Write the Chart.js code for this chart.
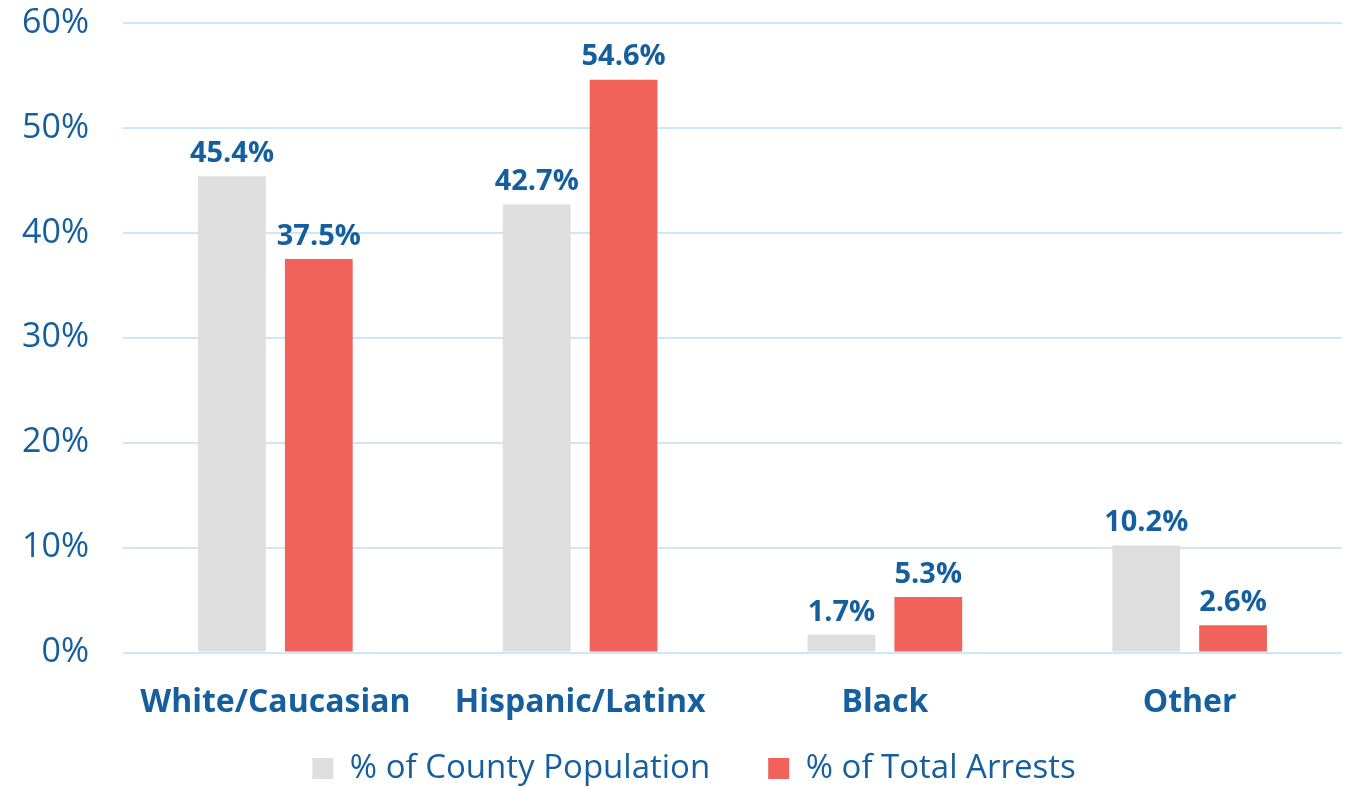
<!DOCTYPE html>
<html>
<head>
<meta charset="utf-8">
<script src="https://cdn.jsdelivr.net/npm/chart.js@4.4.1/dist/chart.umd.min.js"></script>
<style>
  html, body { margin: 0; padding: 0; background: #fff; }
  #wrap { width: 1350px; height: 787px; }
</style>
</head>
<body>
<div id="wrap"><canvas id="chart" width="1350" height="787"></canvas></div>
<script>
// Chart data
const categories = ['White/Caucasian', 'Hispanic/Latinx', 'Black', 'Other'];
const countyPopulation = [45.4, 42.7, 1.7, 10.2];
const totalArrests = [37.5, 54.6, 5.3, 2.6];
const seriesNames = ['% of County Population', '% of Total Arrests'];

const blue = '#165f9e';

// Draws the value on top of each bar
const barLabels = {
    id: 'barLabels',
    afterDatasetsDraw(chart) {
        const ctx = chart.ctx;
        ctx.save();
        ctx.font = 'bold 29px "Open Sans", sans-serif';
        ctx.fillStyle = blue;
        ctx.textAlign = 'center';
        ctx.textBaseline = 'bottom';
        chart.data.datasets.forEach((ds, i) => {
            chart.getDatasetMeta(i).data.forEach((bar, j) => {
                ctx.fillText(ds.data[j].toFixed(1) + '%', bar.x, bar.y - 8);
            });
        });
        ctx.restore();
    }
};

// Wide item spacing in the legend, but keep it tucked under the axis labels
const legendTweak = {
    id: 'legendTweak',
    beforeInit(chart) {
        const legend = chart.legend;
        const fit = legend.fit;
        legend.fit = function () {
            fit.bind(legend)();
            this.height = 42;
        };
        legend.draw = function () {
            const ctx = chart.ctx;
            ctx.save();
            ctx.translate(16, -51);
            legend._draw();
            ctx.restore();
        };
    }
};

new Chart(document.getElementById('chart'), {
    type: 'bar',
    data: {
        labels: categories,
        datasets: [
            { label: seriesNames[0], data: countyPopulation, backgroundColor: '#dedede' },
            { label: seriesNames[1], data: totalArrests, backgroundColor: '#f0625a' }
        ]
    },
    options: {
        responsive: false,
        animation: false,
        layout: { padding: { top: 23, right: 8, left: 14, bottom: 0 } },
        datasets: { bar: { categoryPercentage: 0.57, barPercentage: 0.78 } },
        scales: {
            x: {
                grid: { display: false },
                border: { display: false },
                ticks: { color: blue, font: { family: 'Open Sans', size: 32, weight: 'bold' }, padding: 23 }
            },
            y: {
                min: 0, max: 60,
                ticks: {
                    stepSize: 10,
                    color: blue,
                    font: { family: 'Open Sans', size: 34 },
                    padding: 34,
                    callback: v => v + '%'
                },
                grid: { color: '#cbe7f9', lineWidth: 2, drawTicks: false },
                border: { display: false },
                afterFit: s => { s.width = 109; s.paddingTop = 0; s.paddingBottom = 0; }
            }
        },
        plugins: {
            legend: {
                position: 'bottom',
                labels: {
                    color: blue,
                    font: { family: 'Open Sans', size: 33 },
                    boxWidth: 21, boxHeight: 21,
                    padding: 58
                }
            },
            tooltip: { enabled: false }
        }
    },
    plugins: [barLabels, legendTweak]
});
</script>
</body>
</html>
